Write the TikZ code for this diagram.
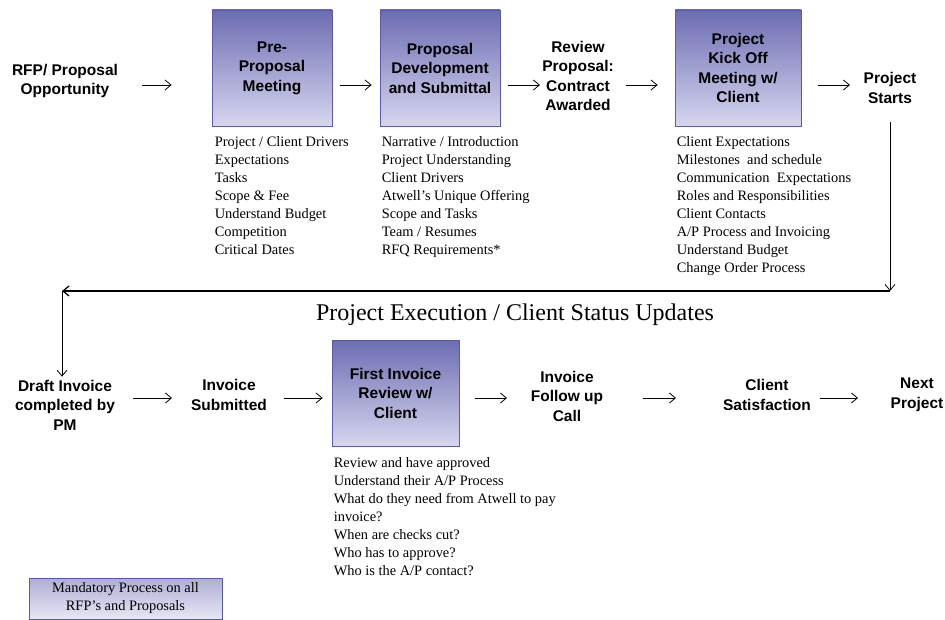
\documentclass[tikz,border=0pt]{standalone}
\usepackage{fontspec}
\setmainfont{Liberation Serif}
\setsansfont{Liberation Sans}
\usetikzlibrary{positioning,calc,arrows.meta}

\definecolor{boxedge}{HTML}{5A5AAA}
\definecolor{boxtop}{HTML}{6C6CB2}
\definecolor{boxbottom}{HTML}{D6D6EF}

\begin{document}
\begin{tikzpicture}[
		x=1pt, y=-1pt,
		stage/.style={align=center, inner sep=0pt, font=\sffamily\bfseries\fontsize{15.5}{19.5}\selectfont},
		procbox/.style={stage, draw=boxedge, line width=0.8pt, top color=boxtop, bottom color=boxbottom,
			minimum width=120pt, minimum height=116pt},
		notes/.style={align=left, inner sep=0pt, font=\fontsize{14.4}{18}\selectfont},
		flow/.style={-{Straight Barb[length=6pt,width=10pt]}, line width=0.8pt},
	]
		\useasboundingbox (0,0) rectangle (945,620);
		\coordinate (top) at (0,85);
		\coordinate (bot) at (0,398);

		% top row
		\node [stage] (rfp) at (65,81) {RFP/ Proposal\\Opportunity};
		\node [procbox] (pre) at (272,68) {Pre-\\Proposal\\Meeting};
		\node [procbox] (prop) at (440,68) {Proposal\\Development\\and Submittal};
		\node [stage] (review) at (578,76) {Review\\Proposal:\\Contract\\Awarded};
		\node [procbox, minimum width=126pt] (kick) at (738,68) {Project\\Kick Off\\Meeting w/\\Client};
		\node [stage] (starts) at (890,88) {Project\\Starts};

		\node [notes, below right=10pt and 3pt of pre.south west] (prenotes) {Project / Client Drivers\\Expectations\\Tasks\\Scope \& Fee\\Understand Budget\\Competition\\Critical Dates};
		\node [notes, below right=10pt and 2pt of prop.south west] (propnotes) {Narrative / Introduction\\Project Understanding\\Client Drivers\\Atwell’s Unique Offering\\Scope and Tasks\\Team / Resumes\\RFQ Requirements*};
		\node [notes, below right=10pt and 2pt of kick.south west] (kicknotes) {Client Expectations\\Milestones\ \ and schedule\\Communication\ \ Expectations\\Roles and Responsibilities\\Client Contacts\\A/P Process and Invoicing\\Understand Budget\\Change Order Process};

		\draw [flow] ($(rfp.center |- top)+(77,0)$) -- ($(pre.west |- top)+(-40,0)$);
		\draw [flow] ($(pre.east |- top)+(8,0)$) -- ($(prop.west |- top)+(-8,0)$);
		\draw [flow] ($(prop.east |- top)+(8,0)$) -- ($(review.center |- top)+(-38,0)$);
		\draw [flow] ($(review.center |- top)+(48,0)$) -- ($(kick.west |- top)+(-17,0)$);
		\draw [flow] ($(kick.east |- top)+(17,0)$) -- ($(starts.center |- top)+(-40,0)$);

		% return to second row
		\coordinate (turnr) at (890,291);
		\coordinate (turnl) at (62,291);
		\node [font=\fontsize{24}{28}\selectfont, inner sep=0pt] (exec) at (515,315) {Project Execution / Client Status Updates};

		% bottom row
		\node [stage] (draft) at (65,405) {Draft Invoice\\completed by\\PM};
		\node [stage] (invsub) at (229,395) {Invoice\\Submitted};
		\node [procbox, minimum width=127pt, minimum height=106pt] (first) at (395.5,393) {First Invoice\\Review w/\\Client};
		\node [stage] (follow) at (567,396) {Invoice\\Follow up\\Call};
		\node [stage] (sat) at (767,395) {Client\\Satisfaction};
		\node [stage] (next) at (917,395) {Next\\Project};

		\node [notes, below right=11pt and 2pt of first.south west] (firstnotes) {Review and have approved\\Understand their A/P Process\\What do they need from Atwell to pay\\invoice?\\When are checks cut?\\Who has to approve?\\Who is the A/P contact?};

		\draw [flow, shorten <=18pt] (starts.south) -- (turnr);
		\draw [flow, line width=1.3pt] (turnr) -- (turnl);
		\draw [flow, shorten >=3pt] (turnl) -- (draft.north -| turnl);

		\draw [flow] ($(draft.center |- bot)+(68,0)$) -- ($(invsub.center |- bot)+(-57,0)$);
		\draw [flow] ($(invsub.center |- bot)+(55,0)$) -- ($(first.west |- bot)+(-9,0)$);
		\draw [flow] ($(first.east |- bot)+(16,0)$) -- ($(follow.center |- bot)+(-60,0)$);
		\draw [flow] ($(follow.center |- bot)+(76,0)$) -- ($(sat.center |- bot)+(-91,0)$);
		\draw [flow] ($(sat.center |- bot)+(53,0)$) -- ($(next.center |- bot)+(-59,0)$);

		% legend
		\node [draw=boxedge, line width=0.8pt, top color=boxtop!55, bottom color=boxbottom!60, align=center,
			minimum width=193pt, minimum height=41pt, inner sep=0pt, font=\fontsize{14.4}{18}\selectfont] (key) at (125.5,598.5) {Mandatory Process on all\\RFP’s and Proposals};
	\end{tikzpicture}
\end{document}
